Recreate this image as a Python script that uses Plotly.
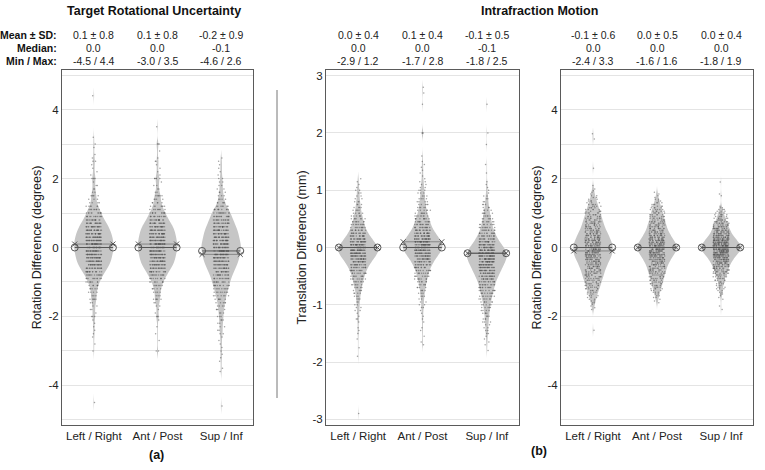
import numpy as np
import plotly.graph_objects as go

# ---------------- data ----------------
categories = ["Left / Right", "Ant / Post", "Sup / Inf"]

# Panel (a): Target rotational uncertainty (degrees), counts per 0.1-degree bin
a_lr_start = -3.0
a_lr_counts = [1, 0, 1, 0, 1, 1, 1, 1, 1, 1, 3, 1, 2, 2, 2, 5, 3, 4, 5, 6, 8, 10, 13, 16, 19, 22, 24, 25, 26, 27,
               28, 28, 27, 26, 25, 23, 21, 18, 15, 12, 11, 8, 6, 4, 3, 5, 2, 2, 2, 1, 4, 1, 1, 1, 1, 2, 1, 1, 0, 1, 1, 0, 1]
a_lr_extra = [-4.5, 4.4]
a_ap_start = -3.0
a_ap_counts = [2, 0, 0, 1, 0, 1, 0, 1, 0, 1, 3, 1, 1, 2, 2, 5, 3, 4, 5, 6, 8, 10, 13, 16, 19, 22, 24, 25, 26, 27,
               28, 28, 27, 26, 25, 24, 22, 19, 16, 13, 12, 8, 7, 5, 4, 6, 2, 2, 2, 1, 5, 1, 1, 1, 1, 2, 1, 0, 1, 0, 3]
a_ap_extra = [3.5]
a_si_start = -3.6
a_si_counts = [1, 1, 0, 1, 1, 1, 1, 1, 1, 1, 1, 2, 2, 2, 2, 3, 3, 3, 4, 4, 5, 6, 7, 8, 9, 11, 12, 13, 15, 17, 19, 21, 23, 24, 25, 26,
               27, 26, 25, 24, 23, 22, 20, 18, 16, 14, 13, 10, 7, 5, 4, 3, 3, 2, 2, 2, 2, 1, 1, 1, 1, 1, 1]
a_si_extra = [-4.6]

# Panel (b) left: intrafraction translation (mm), counts per 0.05-mm bin
t_lr_start = -1.90
t_lr_counts = [1, 0, 0, 1, 0, 0, 1, 0, 1, 1, 1, 0, 1, 2, 1, 1, 2, 2, 2, 2, 3, 3, 4, 4, 5, 6, 7, 8, 9, 10, 12, 14,
               16, 19, 22, 25, 28, 30, 29, 26, 23, 20, 17, 14, 12, 10, 9, 8, 7, 6, 5, 4, 4, 3, 3, 2, 2, 2, 2, 1, 1, 1, 1]
t_lr_extra = [-2.9]
t_ap_start = -1.70
t_ap_counts = [1, 1, 0, 1, 0, 1, 1, 0, 1, 1, 1, 1, 1, 2, 2, 2, 2, 3, 3, 4, 4, 5, 6, 7, 8, 9, 10, 12, 14, 16, 19, 22, 25, 28,
               30, 30, 28, 25, 22, 19, 16, 14, 12, 11, 10, 8, 7, 6, 5, 5, 4, 4, 3, 3, 3, 2, 2, 2, 1, 1, 1, 1, 1, 1, 1, 0, 1]
t_ap_extra = [2.0, 2.0, 2.0, 2.5, 2.7, 2.8]
t_si_start = -1.80
t_si_counts = [1, 0, 1, 1, 1, 1, 2, 2, 2, 2, 3, 3, 3, 4, 4, 5, 5, 6, 7, 8, 9, 10, 11, 12, 13, 15, 17, 19, 21, 23, 25, 27, 29, 30, 30,
               28, 25, 22, 19, 16, 14, 12, 10, 9, 8, 7, 6, 5, 5, 4, 3, 3, 2, 2, 2, 1, 1, 1, 1, 1, 0, 0, 1]
t_si_extra = [1.45, 1.8, 2.0, 2.5]

# Panel (b) right: intrafraction rotation (degrees), counts per 0.05-degree bin
r_lr_start = -1.80
r_lr_counts = [1, 1, 1, 1, 2, 2, 2, 3, 3, 3, 4, 4, 5, 5, 6, 6, 6, 7, 7, 8, 8, 8, 9, 9, 10, 10, 11, 11, 12, 13, 13, 14, 14, 15, 15, 15,
               15, 15, 14, 14, 14, 13, 12, 12, 11, 11, 10, 9, 9, 8, 8, 8, 7, 7, 6, 6, 6, 5, 5, 4, 4, 4, 3, 3, 2, 2, 2, 1, 1, 1, 1, 0, 1]
r_lr_extra = [-2.4, 2.3, 3.15, 3.3]
r_ap_start = -1.60
r_ap_counts = [1, 1, 1, 2, 2, 2, 3, 3, 4, 4, 5, 5, 6, 6, 6, 7, 7, 8, 8, 9, 9, 10, 10, 11, 12, 13, 14, 15, 16, 17, 18, 19,
               20, 19, 18, 17, 16, 15, 14, 13, 12, 11, 10, 10, 9, 9, 8, 8, 7, 7, 6, 6, 6, 5, 5, 4, 4, 3, 3, 2, 2, 1, 1, 1, 1]
r_ap_extra = []
r_si_start = -1.50
r_si_counts = [1, 1, 1, 2, 2, 2, 3, 3, 3, 4, 4, 5, 5, 6, 7, 8, 9, 10, 11, 12, 13, 14, 15, 17, 19, 21, 23, 25, 27, 29,
               30, 29, 27, 25, 23, 21, 19, 17, 15, 14, 13, 12, 11, 10, 9, 8, 7, 6, 5, 5, 4, 3, 3, 2, 1]
r_si_extra = [-1.8, -1.7, 1.5, 1.55, 1.9]

# Summary statistics shown above each panel
a_mean, a_sd, a_median = [0.1, 0.1, -0.2], [0.8, 0.8, 0.9], [0.0, 0.0, -0.1]
a_min, a_max = [-4.5, -3.0, -4.6], [4.4, 3.5, 2.6]
t_mean, t_sd, t_median = [0.0, 0.1, -0.1], [0.4, 0.4, 0.5], [0.0, 0.0, -0.1]
t_min, t_max = [-2.9, -1.7, -1.8], [1.2, 2.8, 2.5]
r_mean, r_sd, r_median = [-0.1, 0.0, 0.0], [0.6, 0.5, 0.4], [0.0, 0.0, 0.0]
r_min, r_max = [-2.4, -1.6, -1.8], [3.3, 1.6, 1.9]

rot_tickvals = [-4, -2, 0, 2, 4]
rot_ticktext = ["-4", "-2", "0", "2", "4"]
tr_tickvals = [-3, -2, -1, 0, 1, 2, 3]
tr_ticktext = ["-3", "-2", "-1", "0", "1", "2", "3"]


def expand(start, step, counts, extra):
    levels = np.round(start + step * np.arange(len(counts)), 2)
    return np.concatenate([np.repeat(levels, counts), np.array(extra, dtype=float)])


panels = [
    dict(xa="x", ya="y", step=0.1, bw=0.11,
         groups=[(a_lr_start, a_lr_counts, a_lr_extra), (a_ap_start, a_ap_counts, a_ap_extra), (a_si_start, a_si_counts, a_si_extra)],
         mean=a_mean, sd=a_sd, median=a_median, mn=a_min, mx=a_max),
    dict(xa="x2", ya="y2", step=0.05, bw=0.06,
         groups=[(t_lr_start, t_lr_counts, t_lr_extra), (t_ap_start, t_ap_counts, t_ap_extra), (t_si_start, t_si_counts, t_si_extra)],
         mean=t_mean, sd=t_sd, median=t_median, mn=t_min, mx=t_max),
    dict(xa="x3", ya="y3", step=0.05, bw=0.09,
         groups=[(r_lr_start, r_lr_counts, r_lr_extra), (r_ap_start, r_ap_counts, r_ap_extra), (r_si_start, r_si_counts, r_si_extra)],
         mean=r_mean, sd=r_sd, median=r_median, mn=r_min, mx=r_max),
]

FONT = "Liberation Sans, Arial, sans-serif"
VIOLIN_FILL = "#c6c6c6"
DOT = "rgba(85,85,85,0.55)"
MARK = "#555555"
HALF = 0.3

fig = go.Figure()

for p in panels:
    for i, (start, counts, extra) in enumerate(p["groups"]):
        vals = expand(start, p["step"], counts, extra)
        fig.add_trace(go.Violin(
            y=vals, x0=i, xaxis=p["xa"], yaxis=p["ya"], width=0.62,
            bandwidth=p["bw"], scalemode="width",
            fillcolor=VIOLIN_FILL, line=dict(width=0, color=VIOLIN_FILL),
            points="all", pointpos=0, jitter=0.4,
            marker=dict(size=1.5, color=DOT),
            box_visible=False, meanline_visible=False,
            showlegend=False, hoverinfo="skip"))
    for i in range(3):
        # median: open circles joined by a line
        fig.add_trace(go.Scatter(
            x=[i - HALF, i + HALF], y=[p["median"][i]] * 2, xaxis=p["xa"], yaxis=p["ya"],
            mode="lines+markers", line=dict(color=MARK, width=1),
            marker=dict(symbol="circle-open", size=7, color=MARK, line=dict(width=1)),
            showlegend=False, hoverinfo="skip"))
        # mean: x marks joined by a line
        fig.add_trace(go.Scatter(
            x=[i - HALF, i + HALF], y=[p["mean"][i]] * 2, xaxis=p["xa"], yaxis=p["ya"],
            mode="lines+markers", line=dict(color="rgba(85,85,85,0.7)", width=0.8),
            marker=dict(symbol="x-thin-open", size=5, color=MARK, line=dict(width=1, color=MARK)),
            showlegend=False, hoverinfo="skip"))

W, H = 765, 470
def px(x):
    return x / W
def py(y):
    return 1 - y / H

ydom = [py(425), py(70)]
xdoms = [[px(62), px(253)], [px(326), px(519)], [px(561), px(753)]]

axis_common = dict(showline=True, linecolor="#5a5a5a", linewidth=1, mirror=True,
                   tickfont=dict(family=FONT, size=11.5, color="#222"), zeroline=False)

layout = dict(
    width=W, height=H, margin=dict(l=0, r=0, t=0, b=0),
    paper_bgcolor="white", plot_bgcolor="white",
    font=dict(family=FONT, color="#222"),
    violinmode="overlay",
)
for k, dom in enumerate(xdoms):
    suffix = "" if k == 0 else str(k + 1)
    layout["xaxis" + suffix] = dict(domain=dom, range=[-0.5, 2.5], tickvals=[0, 1, 2], ticktext=categories,
                                    showgrid=False, anchor="y" + suffix, ticks="", **axis_common)

rot_title = "Rotation Difference (degrees)"
title_font = dict(family=FONT, size=12.5, color="#222")
layout["yaxis"] = dict(domain=ydom, range=[-5.15, 5.15], tickvals=rot_tickvals, ticktext=rot_ticktext,
                       showgrid=True, gridcolor="#e4e4e4", gridwidth=1,
                       minor=dict(dtick=1, tick0=0, showgrid=True, gridcolor="#e4e4e4", gridwidth=1),
                       anchor="x", ticks="", title=dict(text=rot_title, font=title_font, standoff=4),
                       **axis_common)
layout["yaxis2"] = dict(domain=ydom, range=[-3.1, 3.1], tickvals=tr_tickvals, ticktext=tr_ticktext,
                        showgrid=True, gridcolor="#e4e4e4", gridwidth=1, anchor="x2", ticks="",
                        title=dict(text="Translation Difference (mm)", font=title_font, standoff=3),
                        **axis_common)
layout["yaxis3"] = dict(domain=ydom, range=[-5.15, 5.15], tickvals=rot_tickvals, ticktext=rot_ticktext,
                        showgrid=True, gridcolor="#e4e4e4", gridwidth=1,
                        minor=dict(dtick=1, tick0=0, showgrid=True, gridcolor="#e4e4e4", gridwidth=1),
                        anchor="x3", ticks="", title=dict(text=rot_title, font=title_font, standoff=3),
                        **axis_common)
fig.update_layout(**layout)

ann = []
bold_font = dict(family=FONT, size=12.5, color="#111")
for text, x, y in [("<b>Target Rotational Uncertainty</b>", 154, 11), ("<b>Intrafraction Motion</b>", 539, 11),
                   ("<b>(a)</b>", 156, 455), ("<b>(b)</b>", 539, 451)]:
    ann.append(dict(text=text, x=px(x), y=py(y), xref="paper", yref="paper", showarrow=False,
                    font=bold_font, xanchor="center", yanchor="middle"))

row_y = [py(34.5), py(48), py(61)]
row_labels = ["<b>Mean ± SD:</b>", "<b>Median:</b>", "<b>Min / Max:</b>"]
for lab, yy in zip(row_labels, row_y):
    ann.append(dict(text=lab, x=px(59), y=yy, xref="paper", yref="paper", showarrow=False,
                    font=dict(family=FONT, size=10.5, color="#111"), xanchor="right", yanchor="middle"))

for p in panels:
    for i in range(3):
        rows = [f"{p['mean'][i]:.1f} ± {p['sd'][i]:.1f}",
                f"{p['median'][i]:.1f}",
                f"{p['mn'][i]:.1f} / {p['mx'][i]:.1f}"]
        for t, yy in zip(rows, row_y):
            ann.append(dict(text=t, x=i, y=yy, xref=p["xa"], yref="paper", showarrow=False,
                            font=dict(family=FONT, size=10.5, color="#222"), xanchor="center", yanchor="middle"))
fig.update_layout(annotations=ann)

fig.add_shape(type="line", xref="paper", yref="paper", x0=px(277), x1=px(277), y0=py(90), y1=py(398),
              line=dict(color="#777", width=1))

fig.write_html("out.html", config={"displayModeBar": False},
               post_script="document.body.style.margin='0';document.body.style.padding='0';")
